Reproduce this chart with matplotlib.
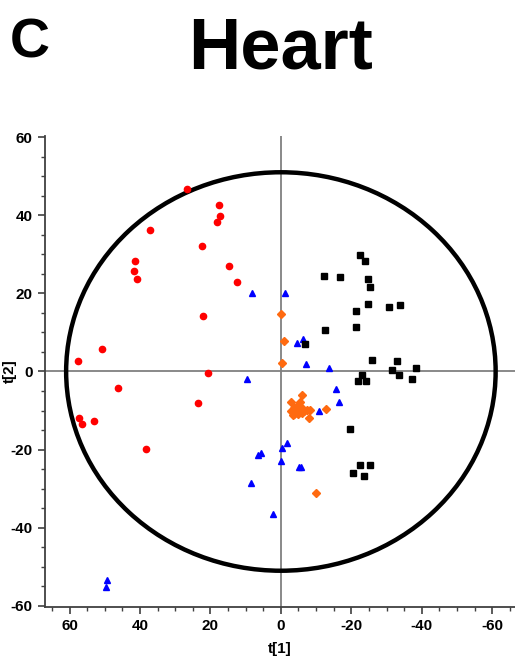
import numpy as np
import matplotlib
matplotlib.use("Agg")
import matplotlib.pyplot as plt
from matplotlib.patches import Ellipse
from matplotlib.ticker import MultipleLocator

plt.rcParams["font.family"] = ["Liberation Sans", "DejaVu Sans"]
plt.rcParams["font.weight"] = "bold"
plt.rcParams["axes.unicode_minus"] = False

# --- PCA scores (t[1], t[2]) per group
red_t1 = [26.6, 17.7, 17.3, 18.2, 37.1, 22.5, 41.5, 41.8, 40.9, 14.8, 12.5,
          22.1, 50.8, 57.6, 20.8, 46.3, 23.6, 57.4, 56.4, 53.2, 38.4]
red_t2 = [46.8, 42.6, 39.7, 38.2, 36.3, 32.0, 28.2, 25.6, 23.8, 27.1, 22.8,
          14.3, 5.7, 2.7, -0.4, -4.3, -8.1, -11.9, -13.5, -12.6, -19.9]

blue_t1 = [8.2, -1.1, 9.5, -6.2, -4.6, -7.2, -13.7, -15.6, -16.4, -10.8, -1.8,
           -0.2, 0.1, -5.2, -5.7, 2.2, 5.7, 6.6, 8.6, 49.5, 49.7]
blue_t2 = [20.2, 20.2, -1.9, 8.4, 7.3, 2.0, 1.0, -4.6, -7.7, -10.0, -18.4,
           -19.7, -23.0, -24.4, -24.4, -36.5, -20.9, -21.4, -28.6, -53.4, -55.1]

orange_t1 = [0.0, -0.8, -0.4, -5.9, -3.0, -5.4, -4.5, -3.6, -2.8, -4.0, -5.0,
             -6.0, -3.3, -4.9, -6.6, -7.3, -8.2, -8.0, -12.7, -10.1, -3.6, -5.6]
orange_t2 = [14.8, 7.8, 2.1, -5.9, -7.7, -7.8, -8.8, -9.3, -10.0, -10.3, -9.9,
             -10.5, -11.1, -11.0, -10.0, -9.8, -9.8, -11.8, -9.6, -31.0, -10.8, -9.2]

black_t1 = [-22.6, -23.8, -12.2, -16.8, -24.8, -25.4, -24.8, -30.6, -33.8, -21.2,
            -12.5, -21.4, -6.8, -25.9, -33.1, -31.5, -38.5, -23.1, -33.5, -37.3,
            -21.9, -24.3, -19.5, -22.6, -25.2, -20.4, -23.6]
black_t2 = [29.9, 28.4, 24.5, 24.1, 23.7, 21.7, 17.3, 16.4, 17.1, 15.4,
            10.7, 11.3, 7.0, 3.0, 2.7, 0.4, 0.9, -0.8, -0.8, -2.0,
            -2.4, -2.4, -14.7, -23.9, -23.9, -25.9, -26.7]

# Hotelling T2 ellipse half-axes
ell_a, ell_b = 61.0, 51.0

fig = plt.figure(figsize=(5.15, 6.57), dpi=100)
ax = fig.add_axes([0.0874, 0.0766, 0.9126, 0.7165])

ax.axhline(0, color="#808080", lw=1.3, zorder=1)
ax.axvline(0, color="#808080", lw=1.3, zorder=1)

ax.add_patch(Ellipse((0, 0), 2 * ell_a, 2 * ell_b, fill=False,
                     ec="black", lw=3.2, zorder=2))

ax.plot(red_t1, red_t2, "o", color="#ff0000", ms=4.5, mec="#ff0000", ls="none", zorder=3)
ax.plot(blue_t1, blue_t2, "^", color="#0000ff", ms=4.5, mec="#0000ff", ls="none", zorder=3)
ax.plot(orange_t1, orange_t2, "D", color="#ff6a10", ms=4.0, mec="#ff6a10", ls="none", zorder=3)
ax.plot(black_t1, black_t2, "s", color="black", ms=4.3, ls="none", zorder=3)

ax.set_xlim(67, -66.5)
ax.set_ylim(-60.2, 60.3)

for s in ["top", "right"]:
    ax.spines[s].set_visible(False)
for s in ["left", "bottom"]:
    ax.spines[s].set_color("#404040")
    ax.spines[s].set_linewidth(1.3)

ax.xaxis.set_major_locator(MultipleLocator(20))
ax.xaxis.set_minor_locator(MultipleLocator(5))
ax.yaxis.set_major_locator(MultipleLocator(20))
ax.yaxis.set_minor_locator(MultipleLocator(5))
ax.tick_params(which="major", length=5, width=1.2, color="#404040",
               labelsize=11, pad=4)
ax.tick_params(which="minor", length=3, width=1.0, color="#404040")
for lbl in ax.get_xticklabels() + ax.get_yticklabels():
    lbl.set_fontweight("bold")

ax.set_xlabel("t[1]", fontsize=11, fontweight="bold", labelpad=6)
fig.text(0.006, 0.4355, "t[2]", rotation=90, fontsize=11, fontweight="bold",
         ha="left", va="center")

fig.text(0.545, 0.925, "Heart", fontsize=52, fontweight="bold",
         ha="center", va="center")
fig.text(0.018, 0.934, "C", fontsize=40, fontweight="bold",
         ha="left", va="center")

fig.savefig("out.png", dpi=100)
